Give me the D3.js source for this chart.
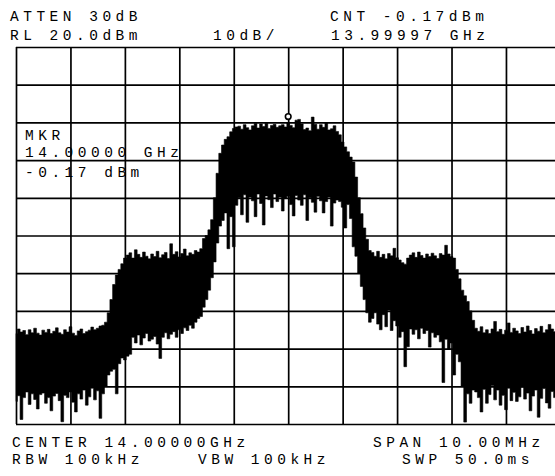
<!DOCTYPE html>
<html>
<head>
<meta charset="utf-8">
<script src="https://cdn.jsdelivr.net/npm/d3@7"></script>
<style>
  html, body { margin: 0; padding: 0; background: #fff; }
  svg { display: block; }
  .lbl { font-family: "Liberation Mono", "DejaVu Sans Mono", monospace; font-size: 14.5px; letter-spacing: 4.5px; fill: #000; }
</style>
</head>
<body>
<svg id="chart" width="555" height="476"></svg>
<script>
// Sweep settings
const centerGHz = 14.0;
const spanMHz = 10;
const refLevel = 20;        // dBm, top graticule line
const dbPerDiv = 10;
const divisions = 10;
const sweepStartMHz = -5;   // offset from centre
const sweepStepMHz = 0.05;

// Marker / counter readouts
const markerOffsetMHz = 0;
const markerLevel = -0.17;
const counterGHz = "13.99997";

// Trace: peak (upper) and valley (lower) level of each sweep bin, dBm
const traceHigh = [
  -56.0,-54.8,-55.6,-55.2,-56.3,-55.0,-55.8,-54.6,-55.9,-56.4,
  -55.1,-55.7,-54.9,-56.0,-55.4,-54.5,-55.8,-56.2,-55.0,-55.6,
  -54.2,-55.9,-56.5,-55.3,-54.8,-56.0,-55.5,-55.1,-54.3,-55.0,
  -54.6,-54.0,-53.8,
  -53.0,-50.5,-47.0,-43.0,-40.5,-39.0,-37.5,-36.0,
  -35.2,-34.6,-36.0,-33.8,-35.0,-35.8,-34.4,-35.5,-36.2,-34.9,
  -35.6,-34.2,-35.9,-35.1,-34.5,-36.1,-32.2,-35.0,-34.3,-35.7,
  -34.8,-33.6,-35.4,-34.6,-35.0,-34.0,-34.4,
  -33.5,-30.8,-30.0,-28.5,-25.8,-20.0,-13.5,-8.2,-6.0,-4.5,-3.8,-2.5,-1.6,-1.2,
  -1.0,-1.8,-0.6,-1.4,-2.0,-0.9,-0.3,-1.5,-0.4,-1.1,
  -0.2,-1.6,-0.8,-0.5,-1.3,-0.9,-0.6,-1.2,-0.17,-0.8,
  -1.4,0.6,0.8,-0.4,-1.9,-1.5,-2.2,1.4,-0.5,-1.8,
  -0.6,-1.3,-0.1,-2.0,-1.7,-0.9,-2.4,
  -3.3,-5.2,-6.5,-7.8,-9.2,-10.5,-14.5,-20.0,-24.2,-28.0,-31.0,-34.0,
  -34.5,-35.5,-34.2,-35.8,-35.0,-36.2,-34.8,-35.4,-33.4,-35.9,
  -36.5,-37.2,-37.6,-36.0,-35.2,-34.6,-35.8,-34.4,-35.3,-36.0,
  -34.9,-35.6,-34.7,-35.4,-36.1,-34.8,-35.2,-32.6,-34.9,-35.6,
  -36.0,-39.0,-41.5,-44.5,-46.0,-47.5,-50.0,-52.5,
  -54.6,-55.4,-54.2,-55.8,-55.0,-56.0,-54.8,-52.8,-55.5,-54.9,
  -56.2,-55.1,-53.2,-55.7,-54.6,-55.3,-56.0,-54.4,-55.6,-54.0,
  -55.2,-56.1,-54.7,-55.4,-54.1,-55.8,-55.0,-53.6,-54.8,-55.5,
  -54.9,-55.2
];
const traceLow = [
  -74.0,-72.5,-78.8,-73.0,-71.5,-74.8,-72.0,-73.5,-76.0,-72.2,
  -71.8,-74.5,-73.0,-76.5,-72.6,-71.9,-73.8,-79.4,-72.4,-73.0,
  -71.5,-74.2,-76.8,-72.0,-73.4,-71.0,-75.0,-72.8,-70.5,-73.6,
  -71.2,-78.5,-72.0,
  -70.0,-67.0,-66.0,-65.5,-72.0,-64.0,-62.5,-63.0,
  -62.0,-61.5,-57.0,-58.5,-56.4,-59.0,-57.2,-56.0,-58.0,-57.5,
  -56.8,-58.8,-62.6,-57.0,-55.8,-57.4,-56.2,-55.5,-57.0,-55.0,
  -56.0,-54.5,-55.2,-53.8,-54.6,-53.0,-52.0,
  -51.5,-49.0,-47.0,-44.5,-41.2,-37.0,-32.0,-27.5,-26.0,-24.0,-33.5,-25.0,-33.0,-22.0,
  -20.0,-24.5,-19.2,-26.5,-19.8,-20.8,-25.0,-19.0,-21.5,-27.2,
  -19.5,-20.5,-22.6,-19.0,-21.0,-19.8,-23.5,-20.2,-19.6,-21.8,
  -24.8,-19.4,-20.6,-22.0,-19.2,-26.0,-20.0,-21.2,-23.8,-19.6,
  -20.8,-24.0,-21.0,-19.8,-27.5,-21.4,-20.6,
  -21.0,-22.5,-28.0,-21.8,-25.5,-33.0,-35.5,-40.0,-43.5,-47.0,-50.5,-53.0,
  -52.0,-50.5,-53.5,-55.0,-51.0,-54.2,-49.8,-55.2,-52.6,-54.0,
  -57.0,-55.5,-64.8,-59.5,-54.8,-56.2,-55.0,-57.4,-54.6,-56.0,
  -55.2,-59.6,-55.8,-57.0,-56.4,-58.2,-69.0,-57.5,-60.2,-58.5,
  -67.0,-61.5,-63.5,-70.0,-79.5,-72.0,-74.5,-71.0,
  -71.5,-73.0,-76.8,-70.8,-74.5,-72.2,-69.8,-73.6,-71.0,-75.0,
  -72.4,-76.2,-70.5,-73.8,-71.6,-74.0,-72.8,-70.2,-73.4,-71.8,
  -76.5,-72.6,-71.0,-78.2,-73.2,-70.6,-74.4,-75.8,-71.4,-73.0,
  -72.0,-74.6
];

// Annotation text
const headerLeft = ["ATTEN 30dB", "RL " + refLevel.toFixed(1) + "dBm"];
const scaleLabel = dbPerDiv + "dB/";
const headerRight = ["CNT " + markerLevel.toFixed(2) + "dBm", counterGHz + " GHz"];
const markerLines = ["MKR", (centerGHz + markerOffsetMHz / 1000).toFixed(5) + " GHz", markerLevel.toFixed(2) + " dBm"];
const footerLeft = ["CENTER " + centerGHz.toFixed(5) + "GHz", "RBW 100kHz"];
const footerMid = "VBW 100kHz";
const footerRight = ["SPAN " + spanMHz.toFixed(2) + "MHz", "SWP 50.0ms"];

const svg = d3.select("#chart");
svg.append("rect").attr("width", 555).attr("height", 476).attr("fill", "#fff");

const plot = { left: 16, top: 47, bottom: 424, right: 560.4 };
const x = d3.scaleLinear().domain([-spanMHz / 2, spanMHz / 2]).range([plot.left, plot.right]);
const y = d3.scaleLinear().domain([refLevel - dbPerDiv * divisions, refLevel]).range([plot.bottom, plot.top]);
const plotH = plot.bottom - plot.top;
const plotW = plot.right - plot.left;

// Graticule
const xTicks = d3.range(0, divisions + 1).map(k => -spanMHz / 2 + k * spanMHz / divisions);
const yTicks = d3.range(0, divisions + 1).map(k => refLevel - k * dbPerDiv);

const gx = svg.append("g").attr("transform", `translate(0,${plot.bottom})`)
  .call(d3.axisBottom(x).tickValues(xTicks).tickSize(-plotH).tickFormat(""));
const gy = svg.append("g").attr("transform", `translate(${plot.left},0)`)
  .call(d3.axisLeft(y).tickValues(yTicks).tickSize(-plotW).tickFormat(""));
[gx, gy].forEach(g => {
  g.select(".domain").remove();
  g.selectAll(".tick line").attr("stroke", "#000").attr("stroke-width", 1.7);
});

// Trace
const freqs = traceHigh.map((_, i) => sweepStartMHz + i * sweepStepMHz);
const area = d3.area()
  .x((d, i) => x(freqs[i]))
  .y0((d, i) => y(traceLow[i]))
  .y1((d, i) => y(traceHigh[i]))
  .curve(d3.curveStep);
svg.append("path")
  .datum(traceHigh)
  .attr("d", area)
  .attr("fill", "#000")
  .attr("stroke", "#000")
  .attr("stroke-width", 0.6);

// Marker symbol, sitting just above the marked point
svg.append("circle")
  .attr("cx", x(markerOffsetMHz))
  .attr("cy", y(markerLevel) - 6.5)
  .attr("r", 2.8)
  .attr("fill", "#fff")
  .attr("stroke", "#000")
  .attr("stroke-width", 1.6);

// Text
function label(str, px, py) {
  svg.append("text").attr("class", "lbl").attr("x", px).attr("y", py).text(str);
}
label(headerLeft[0], 10, 21);
label(headerLeft[1], 10, 39.5);
label(scaleLabel, 213, 39.5);
label(headerRight[0], 330, 21);
label(headerRight[1], 331, 39.5);
label(markerLines[0], 25, 140);
label(markerLines[1], 25, 156.5);
label(markerLines[2], 25, 176.5);
label(footerLeft[0], 12, 447);
label(footerLeft[1], 12, 463.5);
label(footerMid, 198, 463.5);
label(footerRight[0], 373, 447);
label(footerRight[1], 402, 463.5);
</script>
</body>
</html>
